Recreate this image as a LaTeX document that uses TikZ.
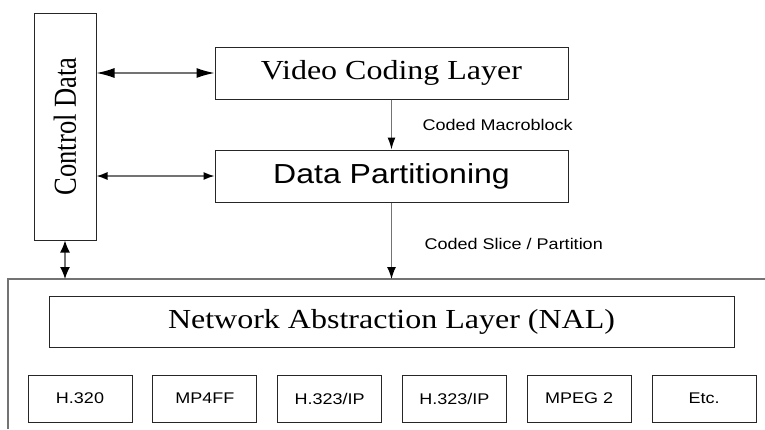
\documentclass[tikz,border=0pt]{standalone}
\usepackage{fontspec}
\setmainfont{Liberation Serif}
\setsansfont{Liberation Sans}
\usetikzlibrary{arrows.meta,positioning,calc}

\newcommand{\squash}[1]{\scalebox{1}[0.86]{#1}}

\begin{document}
\begin{tikzpicture}[x=1pt, y=-1pt,
    box/.style={draw=black!85, line width=1pt, inner sep=0pt, minimum height=52pt},
    bigfont/.style={font=\fontsize{32}{36}\selectfont},
    bigsans/.style={font=\sffamily\fontsize{32}{36}\selectfont},
    smallfont/.style={font=\sffamily\fontsize{18}{20}\selectfont},
    portbox/.style={box, smallfont, minimum width=104pt, minimum height=47pt},
    link/.style={draw=black!55, line width=1.3pt},
    lbl/.style={smallfont, inner sep=0pt}]
    \useasboundingbox (0,0) rectangle (765,429);

    % Side block
    \node[box, minimum width=62pt, minimum height=227pt] (ctrl) at (65,126.5)
        {\rotatebox{90}{\fontsize{32}{36}\selectfont\scalebox{0.83}[1]{Control Data}}};

    % Coding layers
    \node[box, bigfont, minimum width=353pt] (vcl) at (391.5,73) {\squash{Video Coding Layer}};
    \node[box, bigsans, minimum width=353pt] (dp) at (391.5,176) {\squash{Data Partitioning}};

    % Lower frame (open on the right and bottom)
    \coordinate (ftl) at (8,279);
    \coordinate (ftr) at (765,279);
    \coordinate (fbl) at (8,429);
    \draw[link] (fbl) -- (ftl) -- (ftr);

    % Network abstraction layer
    \node[box, bigfont, minimum width=685pt, minimum height=51pt] (nal) at (391.5,321.5)
        {\squash{Network Abstraction Layer (NAL)}};

    % Transport boxes
    \foreach \name [count=\i from 0] in {H.320, MP4FF, H.323/IP, H.323/IP, MPEG 2, Etc.}
        \node[portbox] (port\i) at (80+124.8*\i,398.5) {\squash{\name}};

    % Arrows
    \draw[link, >={Latex[length=18pt,width=10pt,color=black]}, <->]
        (ctrl.east |- vcl.west) -- (vcl.west);
    \draw[link, >={Latex[length=11pt,width=8pt,color=black]}, <->]
        (ctrl.east |- dp.west) -- (dp.west);
    \draw[link, >={Latex[length=12pt,width=8pt,color=black]}, ->]
        (vcl.south) -- (dp.north);
    \draw[link, >={Latex[length=12pt,width=9pt,color=black]}, ->]
        (dp.south) -- (dp.south |- ftl);
    \draw[link, >={Latex[length=12pt,width=10pt,color=black]}, <->]
        (ctrl.south) -- (ctrl.south |- ftl);

    % Arrow labels
    \coordinate (mb) at ($(vcl.south)!0.5!(dp.north)$);
    \node[lbl, right=31pt of mb] (mblbl) {\squash{Coded Macroblock}};
    \coordinate (sl) at ($(dp.south)!0.54!(dp.south |- ftl)$);
    \node[lbl, right=33pt of sl] (sllbl) {\squash{Coded Slice / Partition}};
\end{tikzpicture}
\end{document}
